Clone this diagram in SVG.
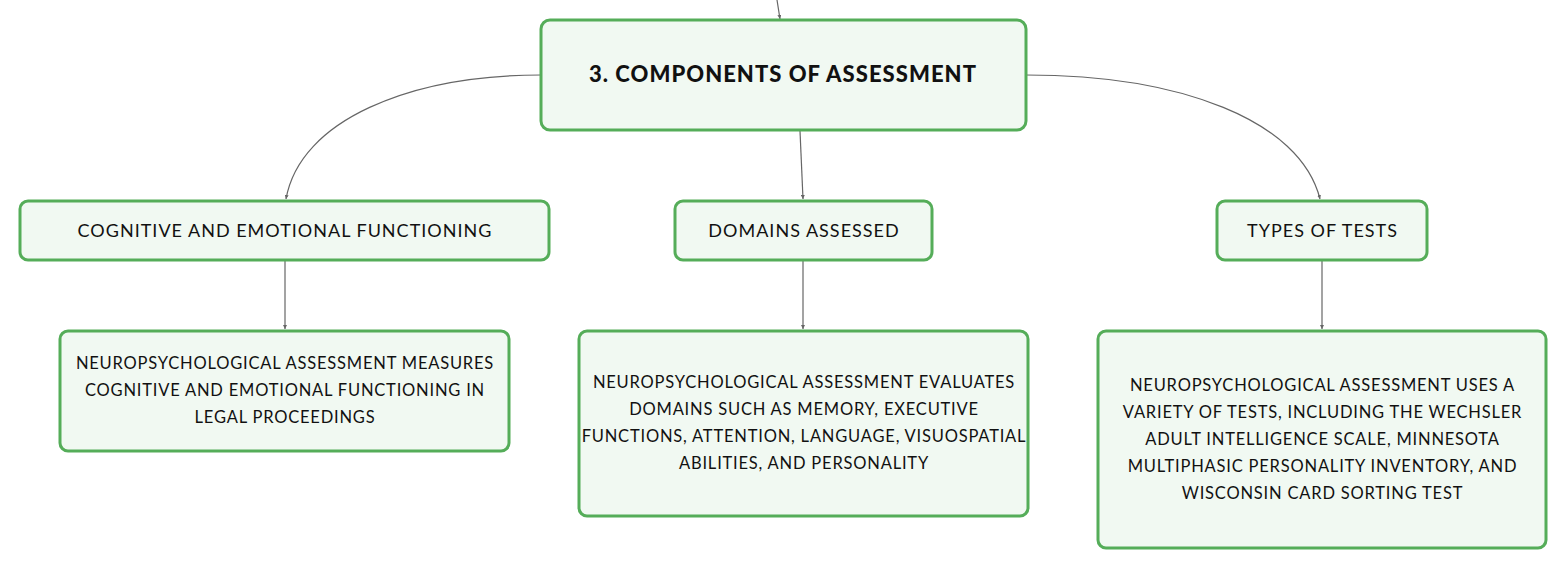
<svg xmlns="http://www.w3.org/2000/svg" width="1567" height="569" viewBox="0 0 1567 569">
<defs>
<marker id="arr" viewBox="0 0 6 6" refX="6" refY="3" markerWidth="4" markerHeight="4" orient="auto" markerUnits="userSpaceOnUse">
<path d="M0,0 L6,3 L0,6 z" fill="#666"/>
</marker>
<style>
.node rect{fill:#f1f9f2;stroke:#55ad59;stroke-width:3}
.t{font-family:Lato,"Noto Sans",sans-serif;fill:#111;text-anchor:middle}
.l2{font-size:18px;letter-spacing:1px}
.l3{font-size:16.5px;letter-spacing:0.8px}
.title{font-size:22px;font-weight:900;letter-spacing:1.05px}
.conn path{fill:none;stroke:#666;stroke-width:1.2;marker-end:url(#arr)}
</style>
</defs>
<rect width="1567" height="569" fill="#fff"/>
<g class="conn">
<path d="M777,0 L780,19"/>
<path d="M541,75 C410,75 300,120 286,199"/>
<path d="M1026,75 C1180,75 1300,120 1320,199"/>
<path d="M800,131 L803,199"/>
<path d="M285,261 L285,329"/>
<path d="M803,261 L803,329"/>
<path d="M1322,261 L1322,329"/>
</g>
<g id="root" class="node">
<rect x="541" y="20" width="485" height="110" rx="9"/>
<text class="t title" x="783" y="82">3. COMPONENTS OF ASSESSMENT</text>
</g>
<g id="cog" class="node">
<rect x="20" y="201" width="529" height="59" rx="8"/>
<text class="t l2" x="285" y="237">COGNITIVE AND EMOTIONAL FUNCTIONING</text>
</g>
<g id="dom" class="node">
<rect x="675" y="201" width="257" height="59" rx="8"/>
<text class="t l2" x="804" y="237">DOMAINS ASSESSED</text>
</g>
<g id="types" class="node">
<rect x="1217" y="201" width="210" height="59" rx="8"/>
<text class="t l2" x="1322.5" y="237">TYPES OF TESTS</text>
</g>
<g id="cogdesc" class="node">
<rect x="60" y="331" width="449" height="120" rx="8"/>
<text class="t l3" x="285"><tspan x="285" y="369">NEUROPSYCHOLOGICAL ASSESSMENT MEASURES</tspan><tspan x="285" y="396">COGNITIVE AND EMOTIONAL FUNCTIONING IN</tspan><tspan x="285" y="423">LEGAL PROCEEDINGS</tspan></text>
</g>
<g id="domdesc" class="node">
<rect x="579" y="331" width="449" height="185" rx="8"/>
<text class="t l3" x="804"><tspan x="804" y="388">NEUROPSYCHOLOGICAL ASSESSMENT EVALUATES</tspan><tspan x="804" y="415">DOMAINS SUCH AS MEMORY, EXECUTIVE</tspan><tspan x="804" y="442">FUNCTIONS, ATTENTION, LANGUAGE, VISUOSPATIAL</tspan><tspan x="804" y="469">ABILITIES, AND PERSONALITY</tspan></text>
</g>
<g id="typesdesc" class="node">
<rect x="1098" y="331" width="448" height="217" rx="8"/>
<text class="t l3" x="1322.5"><tspan x="1322.5" y="391">NEUROPSYCHOLOGICAL ASSESSMENT USES A</tspan><tspan x="1322.5" y="418">VARIETY OF TESTS, INCLUDING THE WECHSLER</tspan><tspan x="1322.5" y="445">ADULT INTELLIGENCE SCALE, MINNESOTA</tspan><tspan x="1322.5" y="472">MULTIPHASIC PERSONALITY INVENTORY, AND</tspan><tspan x="1322.5" y="499">WISCONSIN CARD SORTING TEST</tspan></text>
</g>
</svg>
